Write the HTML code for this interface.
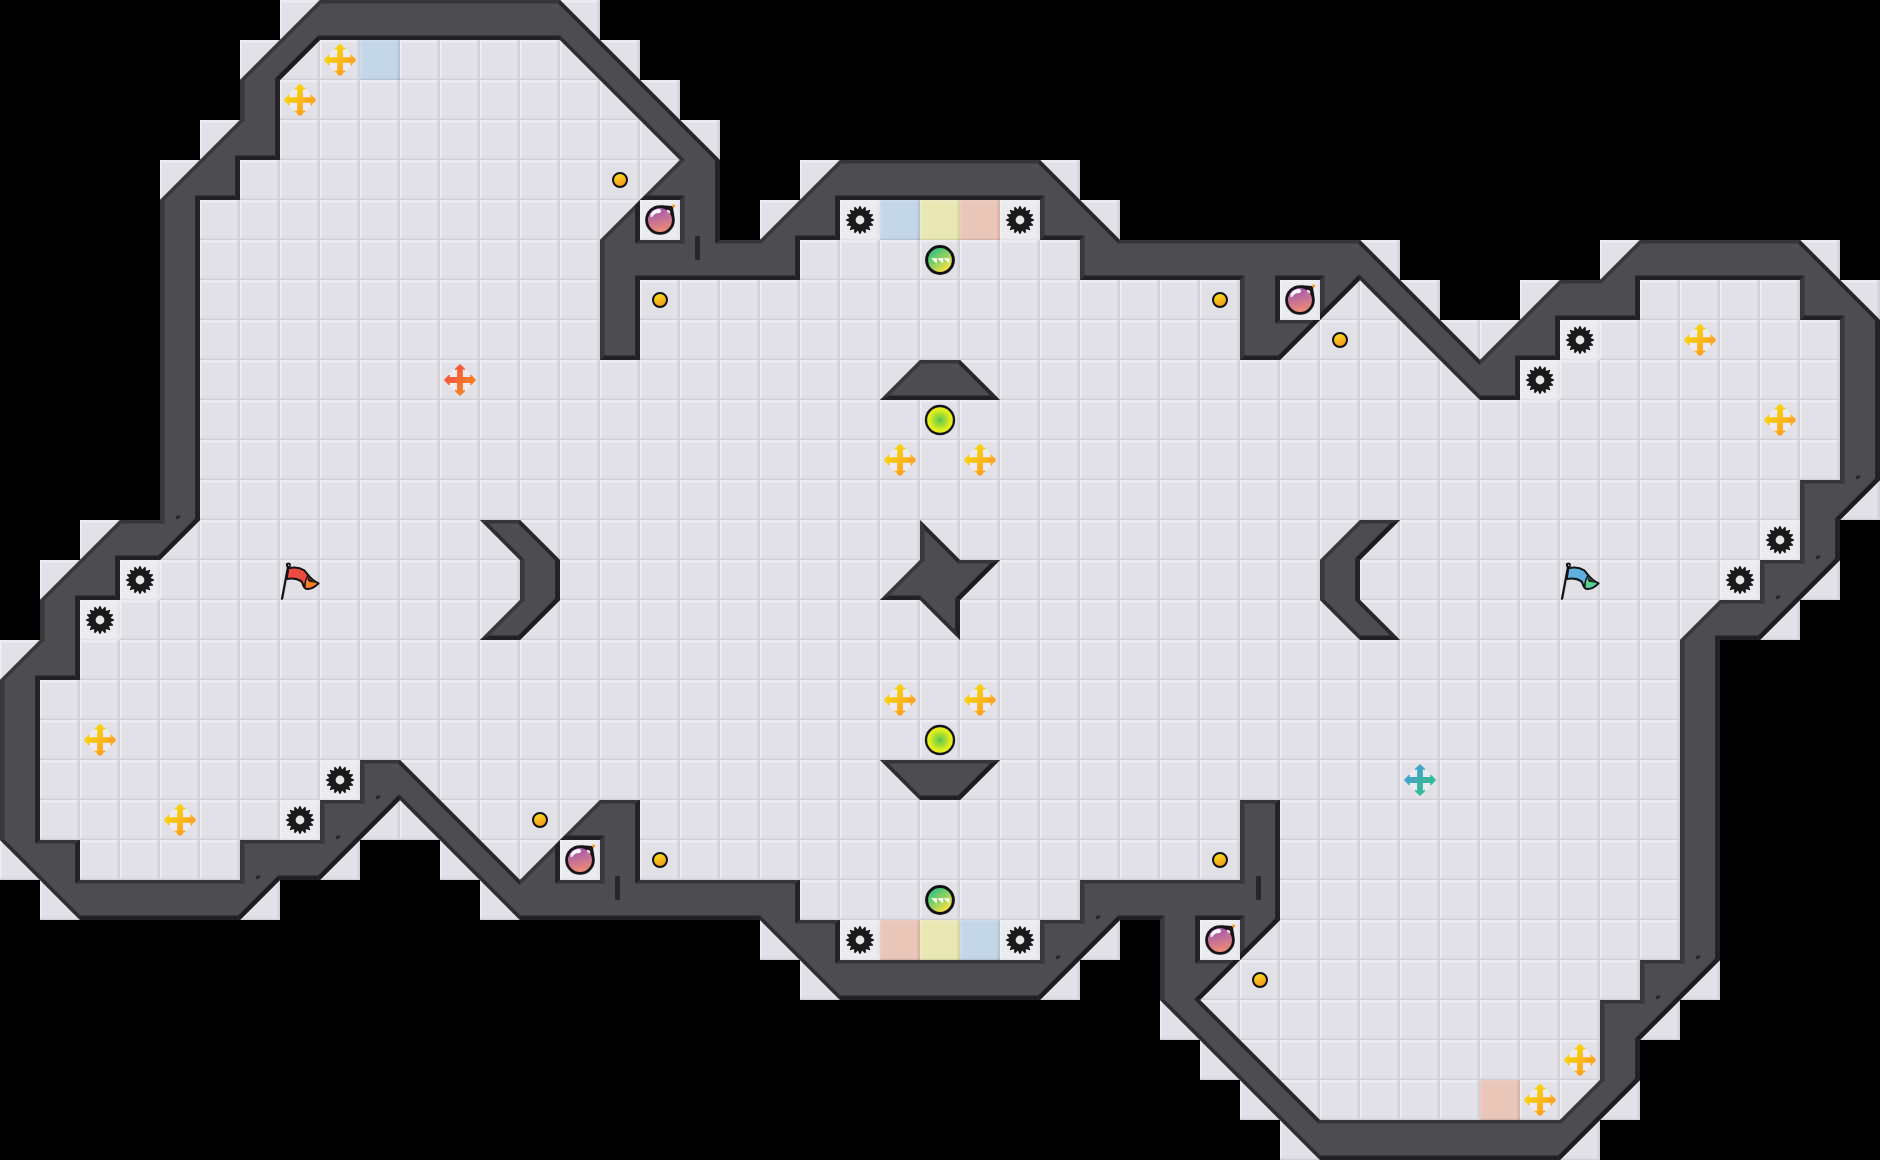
<!DOCTYPE html>
<html><head><meta charset="utf-8"><title>map</title>
<style>html,body{margin:0;padding:0;background:#000;overflow:hidden}svg{display:block}</style>
</head><body>
<svg width="1880" height="1160" viewBox="0 0 1880 1160">
<defs>
<pattern id="fl" width="40" height="40" patternUnits="userSpaceOnUse">
<rect width="40" height="40" fill="#e1e0e6"/>
<rect width="40" height="2.6" fill="#ebeaf0"/>
<rect width="2" height="40" fill="#ecebf1"/>
<rect x="37" width="1.5" height="40" fill="#dad9df"/>
<rect x="38.5" width="1.5" height="40" fill="#cfced4"/>
<rect y="38" width="40" height="1" fill="#dbdae0"/>
<rect y="39" width="40" height="1" fill="#d0cfd5"/>
<rect x="5.5" y="5.5" width="29" height="29" fill="none" stroke="#e5e4ea" stroke-width="1"/>
</pattern>
<linearGradient id="gy" x1="0" y1="0" x2="1" y2="1"><stop offset="0.15" stop-color="#f7dc08"/><stop offset="0.85" stop-color="#ff9a1f"/></linearGradient>
<linearGradient id="gr" x1="0" y1="0" x2="1" y2="1"><stop offset="0.15" stop-color="#f24d44"/><stop offset="0.85" stop-color="#f78a1c"/></linearGradient>
<linearGradient id="gb" x1="0" y1="0" x2="1" y2="1"><stop offset="0.15" stop-color="#4a9bd6"/><stop offset="0.85" stop-color="#2cc486"/></linearGradient>
<linearGradient id="gbomb" x1="0" y1="0" x2="0.25" y2="1"><stop offset="0.1" stop-color="#9a55b8"/><stop offset="1" stop-color="#ee8a72"/></linearGradient>
<linearGradient id="gbtn" x1="0" y1="0" x2="0.3" y2="1"><stop offset="0.1" stop-color="#f8e31a"/><stop offset="1" stop-color="#f59a1c"/></linearGradient>
<linearGradient id="gtp" x1="0.1" y1="0" x2="0.9" y2="1"><stop offset="0.12" stop-color="#33c180"/><stop offset="0.5" stop-color="#8fd162"/><stop offset="0.82" stop-color="#f0e042"/></linearGradient>
<radialGradient id="gjj"><stop offset="0" stop-color="#58c64e"/><stop offset="0.75" stop-color="#e2ee1c"/><stop offset="1" stop-color="#e9f01a"/></radialGradient>
<path id="cross" d="M-2.8 -2.8L-2.8 -10.5L-5.5 -10.7L-5.5 -12L-3.7 -12.3L-2.3 -14.7L0 -15.9L2.3 -14.7L3.7 -12.3L5.5 -12L5.5 -10.7L2.8 -10.5L2.8 -2.8L10.5 -2.8L10.7 -5.5L12 -5.5L12.3 -3.7L14.7 -2.3L15.9 0L14.7 2.3L12.3 3.7L12 5.5L10.7 5.5L10.5 2.8L2.8 2.8L2.8 10.5L5.5 10.7L5.5 12L3.7 12.3L2.3 14.7L0 15.9L-2.3 14.7L-3.7 12.3L-5.5 12L-5.5 10.7L-2.8 10.5L-2.8 2.8L-10.5 2.8L-10.7 5.5L-12 5.5L-12.3 3.7L-14.7 2.3L-15.9 0L-14.7 -2.3L-12.3 -3.7L-12 -5.5L-10.7 -5.5L-10.5 -2.8z" stroke-linejoin="round"/>
<filter id="sb" x="-1%" y="-1%" width="102%" height="102%"><feGaussianBlur stdDeviation="0.55"/></filter>
<radialGradient id="gh"><stop offset="0.35" stop-color="#fff" stop-opacity="0.15"/><stop offset="0.8" stop-color="#fff" stop-opacity="0.45"/><stop offset="0.96" stop-color="#f0eeff" stop-opacity="0.5"/><stop offset="1" stop-color="#fff" stop-opacity="0"/></radialGradient>
<g id="halo"><circle r="12.6" fill="url(#gh)"/></g>
<g id="Y"><use href="#halo"/><use href="#cross" fill="url(#gy)"/><circle r="1.6" fill="none" stroke="#ffb347" stroke-width="0.6"/></g>
<path id="cross2" d="M-2.9 -2.9L-2.9 -10.4L-5.3 -9.8L-4.7 -11.6L0 -16.1L4.7 -11.6L5.3 -9.8L2.9 -10.4L2.9 -2.9L10.4 -2.9L9.8 -5.3L11.6 -4.7L16.1 0L11.6 4.7L9.8 5.3L10.4 2.9L2.9 2.9L2.9 10.4L5.3 9.8L4.7 11.6L0 16.1L-4.7 11.6L-5.3 9.8L-2.9 10.4L-2.9 2.9L-10.4 2.9L-9.8 5.3L-11.6 4.7L-16.1 0L-11.6 -4.7L-9.8 -5.3L-10.4 -2.9z" stroke-linejoin="round"/>
<g id="R"><use href="#halo"/><use href="#cross2" fill="url(#gr)"/></g>
<g id="U"><use href="#halo"/><use href="#cross2" fill="url(#gb)"/></g>
<g id="S"><path d="M-0.47 -14.09L0.47 -14.09L2.09 -10.49L4.96 -13.2L5.83 -12.84L5.94 -8.9L9.63 -10.3L10.3 -9.63L8.9 -5.94L12.84 -5.83L13.2 -4.96L10.49 -2.09L14.09 -0.47L14.09 0.47L10.49 2.09L13.2 4.96L12.84 5.83L8.9 5.94L10.3 9.63L9.63 10.3L5.94 8.9L5.83 12.84L4.96 13.2L2.09 10.49L0.47 14.09L-0.47 14.09L-2.09 10.49L-4.96 13.2L-5.83 12.84L-5.94 8.9L-9.63 10.3L-10.3 9.63L-8.9 5.94L-12.84 5.83L-13.2 4.96L-10.49 2.09L-14.09 0.47L-14.09 -0.47L-10.49 -2.09L-13.2 -4.96L-12.84 -5.83L-8.9 -5.94L-10.3 -9.63L-9.63 -10.3L-5.94 -8.9L-5.83 -12.84L-4.96 -13.2L-2.09 -10.49z" fill="#1a1a1a"/><circle r="4.4" fill="#e6e5ea"/></g>
<g id="B"><path d="M1 -14.7L12.8 -13.9L14.3 -4z" fill="#151515"/><circle r="13.4" fill="url(#gbomb)" stroke="#151515" stroke-width="2.8"/><path d="M-9.6 -3.2Q-9.4 -10 -1 -11.2Q2.4 -9.6 0 -7Q-5 -7.6 -7.4 -3.6Q-8.6 -2.4 -9.6 -3.2z" fill="#fff" opacity="0.96"/><ellipse cx="8.6" cy="-8.4" rx="2.1" ry="1.4" fill="#f9cfdc" transform="rotate(45 8.6 -8.4)"/><rect x="12.2" y="-15.4" width="2.8" height="2.8" fill="#f7941d" transform="rotate(20 13.6 -14)"/></g>
<g id="o"><circle r="7" fill="url(#gbtn)" stroke="#131313" stroke-width="2"/></g>
<g id="G"><circle r="13.4" fill="url(#gtp)" stroke="#131313" stroke-width="3"/><path d="M-9 -1.7h6l-0.4 5.1zM-2.6 -1.7h6l-0.4 5.1zM3.8 -1.7h5.8l-0.4 5.1z" fill="#fff"/></g>
<g id="J"><circle r="14" fill="url(#gjj)" stroke="#17121f" stroke-width="2.3"/></g>
<g id="flag"><path d="M-11.7 -14.6L-17.9 18.6" stroke="#141414" stroke-width="2.3" stroke-linecap="round" fill="none"/><circle cx="-11.6" cy="-15" r="2.5" fill="#141414"/><circle cx="-11.3" cy="-14.8" r="0.7" fill="#ddd"/></g>
<g id="F"><path d="M-11.7 -11.7C-7 -13 -1 -13.2 4.1 -9.7C7.6 -6.5 9 -1 18.6 3.4C15 7 10.5 9.6 6.5 8.9C2.6 7.6 3.6 4 1.4 1.4C-2.8 -1.6 -8 -2 -13.3 -0.9z" fill="#ea4a3f" stroke="#141414" stroke-width="2" stroke-linejoin="round"/><path d="M6.2 -0.5L10 0.6L17 3.5L10 7.6L6.6 7.9L5 4.5z" fill="#f58220"/><path d="M7 -5C8.8 -1 12 1.6 18 3.5L8.6 1.6z" fill="#141414"/><path d="M7.8 -4.5Q4.6 1 4.8 7" stroke="#141414" stroke-width="1.4" fill="none"/><use href="#flag"/></g>
<g id="f"><path d="M-11.7 -11.7C-7 -13 -1 -13.2 4.1 -9.7C7.6 -6.5 9 -1 18.6 3.4C15 7 10.5 9.6 6.5 8.9C2.6 7.6 3.6 4 1.4 1.4C-2.8 -1.6 -8 -2 -13.3 -0.9z" fill="#5eb0e0" stroke="#141414" stroke-width="2" stroke-linejoin="round"/><path d="M6.2 -0.5L10 0.6L17 3.5L10 7.6L6.6 7.9L5 4.5z" fill="#55d58a"/><path d="M7 -5C8.8 -1 12 1.6 18 3.5L8.6 1.6z" fill="#141414"/><path d="M7.8 -4.5Q4.6 1 4.8 7" stroke="#141414" stroke-width="1.4" fill="none"/><use href="#flag"/></g>
<g id="bev"><rect width="40" height="2.6" fill="#fff" opacity="0.10"/><rect width="2" height="40" fill="#fff" opacity="0.12"/><rect x="37" width="1.5" height="40" fill="#000" opacity="0.04"/><rect x="38.5" width="1.5" height="40" fill="#000" opacity="0.09"/><rect y="38" width="40" height="1" fill="#000" opacity="0.035"/><rect y="39" width="40" height="1" fill="#000" opacity="0.085"/></g>
</defs>
<rect width="1880" height="1160" fill="#000"/>
<path d="M280 0h40v40h-40zM560 0h40v40h-40zM240 40h40v40h-40zM280 40h40v40h-40zM320 40h40v40h-40zM360 40h40v40h-40zM400 40h40v40h-40zM440 40h40v40h-40zM480 40h40v40h-40zM520 40h40v40h-40zM560 40h40v40h-40zM600 40h40v40h-40zM280 80h40v40h-40zM320 80h40v40h-40zM360 80h40v40h-40zM400 80h40v40h-40zM440 80h40v40h-40zM480 80h40v40h-40zM520 80h40v40h-40zM560 80h40v40h-40zM600 80h40v40h-40zM640 80h40v40h-40zM200 120h40v40h-40zM280 120h40v40h-40zM320 120h40v40h-40zM360 120h40v40h-40zM400 120h40v40h-40zM440 120h40v40h-40zM480 120h40v40h-40zM520 120h40v40h-40zM560 120h40v40h-40zM600 120h40v40h-40zM640 120h40v40h-40zM680 120h40v40h-40zM160 160h40v40h-40zM240 160h40v40h-40zM280 160h40v40h-40zM320 160h40v40h-40zM360 160h40v40h-40zM400 160h40v40h-40zM440 160h40v40h-40zM480 160h40v40h-40zM520 160h40v40h-40zM560 160h40v40h-40zM600 160h40v40h-40zM640 160h40v40h-40zM800 160h40v40h-40zM1040 160h40v40h-40zM200 200h40v40h-40zM240 200h40v40h-40zM280 200h40v40h-40zM320 200h40v40h-40zM360 200h40v40h-40zM400 200h40v40h-40zM440 200h40v40h-40zM480 200h40v40h-40zM520 200h40v40h-40zM560 200h40v40h-40zM600 200h40v40h-40zM640 200h40v40h-40zM760 200h40v40h-40zM840 200h40v40h-40zM880 200h40v40h-40zM920 200h40v40h-40zM960 200h40v40h-40zM1000 200h40v40h-40zM1080 200h40v40h-40zM200 240h40v40h-40zM240 240h40v40h-40zM280 240h40v40h-40zM320 240h40v40h-40zM360 240h40v40h-40zM400 240h40v40h-40zM440 240h40v40h-40zM480 240h40v40h-40zM520 240h40v40h-40zM560 240h40v40h-40zM800 240h40v40h-40zM840 240h40v40h-40zM880 240h40v40h-40zM920 240h40v40h-40zM960 240h40v40h-40zM1000 240h40v40h-40zM1040 240h40v40h-40zM1360 240h40v40h-40zM1600 240h40v40h-40zM1800 240h40v40h-40zM200 280h40v40h-40zM240 280h40v40h-40zM280 280h40v40h-40zM320 280h40v40h-40zM360 280h40v40h-40zM400 280h40v40h-40zM440 280h40v40h-40zM480 280h40v40h-40zM520 280h40v40h-40zM560 280h40v40h-40zM640 280h40v40h-40zM680 280h40v40h-40zM720 280h40v40h-40zM760 280h40v40h-40zM800 280h40v40h-40zM840 280h40v40h-40zM880 280h40v40h-40zM920 280h40v40h-40zM960 280h40v40h-40zM1000 280h40v40h-40zM1040 280h40v40h-40zM1080 280h40v40h-40zM1120 280h40v40h-40zM1160 280h40v40h-40zM1200 280h40v40h-40zM1280 280h40v40h-40zM1320 280h40v40h-40zM1360 280h40v40h-40zM1400 280h40v40h-40zM1520 280h40v40h-40zM1640 280h40v40h-40zM1680 280h40v40h-40zM1720 280h40v40h-40zM1760 280h40v40h-40zM1840 280h40v40h-40zM200 320h40v40h-40zM240 320h40v40h-40zM280 320h40v40h-40zM320 320h40v40h-40zM360 320h40v40h-40zM400 320h40v40h-40zM440 320h40v40h-40zM480 320h40v40h-40zM520 320h40v40h-40zM560 320h40v40h-40zM640 320h40v40h-40zM680 320h40v40h-40zM720 320h40v40h-40zM760 320h40v40h-40zM800 320h40v40h-40zM840 320h40v40h-40zM880 320h40v40h-40zM920 320h40v40h-40zM960 320h40v40h-40zM1000 320h40v40h-40zM1040 320h40v40h-40zM1080 320h40v40h-40zM1120 320h40v40h-40zM1160 320h40v40h-40zM1200 320h40v40h-40zM1280 320h40v40h-40zM1320 320h40v40h-40zM1360 320h40v40h-40zM1400 320h40v40h-40zM1440 320h40v40h-40zM1480 320h40v40h-40zM1560 320h40v40h-40zM1600 320h40v40h-40zM1640 320h40v40h-40zM1680 320h40v40h-40zM1720 320h40v40h-40zM1760 320h40v40h-40zM1800 320h40v40h-40zM200 360h40v40h-40zM240 360h40v40h-40zM280 360h40v40h-40zM320 360h40v40h-40zM360 360h40v40h-40zM400 360h40v40h-40zM440 360h40v40h-40zM480 360h40v40h-40zM520 360h40v40h-40zM560 360h40v40h-40zM600 360h40v40h-40zM640 360h40v40h-40zM680 360h40v40h-40zM720 360h40v40h-40zM760 360h40v40h-40zM800 360h40v40h-40zM840 360h40v40h-40zM880 360h40v40h-40zM960 360h40v40h-40zM1000 360h40v40h-40zM1040 360h40v40h-40zM1080 360h40v40h-40zM1120 360h40v40h-40zM1160 360h40v40h-40zM1200 360h40v40h-40zM1240 360h40v40h-40zM1280 360h40v40h-40zM1320 360h40v40h-40zM1360 360h40v40h-40zM1400 360h40v40h-40zM1440 360h40v40h-40zM1520 360h40v40h-40zM1560 360h40v40h-40zM1600 360h40v40h-40zM1640 360h40v40h-40zM1680 360h40v40h-40zM1720 360h40v40h-40zM1760 360h40v40h-40zM1800 360h40v40h-40zM200 400h40v40h-40zM240 400h40v40h-40zM280 400h40v40h-40zM320 400h40v40h-40zM360 400h40v40h-40zM400 400h40v40h-40zM440 400h40v40h-40zM480 400h40v40h-40zM520 400h40v40h-40zM560 400h40v40h-40zM600 400h40v40h-40zM640 400h40v40h-40zM680 400h40v40h-40zM720 400h40v40h-40zM760 400h40v40h-40zM800 400h40v40h-40zM840 400h40v40h-40zM880 400h40v40h-40zM920 400h40v40h-40zM960 400h40v40h-40zM1000 400h40v40h-40zM1040 400h40v40h-40zM1080 400h40v40h-40zM1120 400h40v40h-40zM1160 400h40v40h-40zM1200 400h40v40h-40zM1240 400h40v40h-40zM1280 400h40v40h-40zM1320 400h40v40h-40zM1360 400h40v40h-40zM1400 400h40v40h-40zM1440 400h40v40h-40zM1480 400h40v40h-40zM1520 400h40v40h-40zM1560 400h40v40h-40zM1600 400h40v40h-40zM1640 400h40v40h-40zM1680 400h40v40h-40zM1720 400h40v40h-40zM1760 400h40v40h-40zM1800 400h40v40h-40zM200 440h40v40h-40zM240 440h40v40h-40zM280 440h40v40h-40zM320 440h40v40h-40zM360 440h40v40h-40zM400 440h40v40h-40zM440 440h40v40h-40zM480 440h40v40h-40zM520 440h40v40h-40zM560 440h40v40h-40zM600 440h40v40h-40zM640 440h40v40h-40zM680 440h40v40h-40zM720 440h40v40h-40zM760 440h40v40h-40zM800 440h40v40h-40zM840 440h40v40h-40zM880 440h40v40h-40zM920 440h40v40h-40zM960 440h40v40h-40zM1000 440h40v40h-40zM1040 440h40v40h-40zM1080 440h40v40h-40zM1120 440h40v40h-40zM1160 440h40v40h-40zM1200 440h40v40h-40zM1240 440h40v40h-40zM1280 440h40v40h-40zM1320 440h40v40h-40zM1360 440h40v40h-40zM1400 440h40v40h-40zM1440 440h40v40h-40zM1480 440h40v40h-40zM1520 440h40v40h-40zM1560 440h40v40h-40zM1600 440h40v40h-40zM1640 440h40v40h-40zM1680 440h40v40h-40zM1720 440h40v40h-40zM1760 440h40v40h-40zM1800 440h40v40h-40zM200 480h40v40h-40zM240 480h40v40h-40zM280 480h40v40h-40zM320 480h40v40h-40zM360 480h40v40h-40zM400 480h40v40h-40zM440 480h40v40h-40zM480 480h40v40h-40zM520 480h40v40h-40zM560 480h40v40h-40zM600 480h40v40h-40zM640 480h40v40h-40zM680 480h40v40h-40zM720 480h40v40h-40zM760 480h40v40h-40zM800 480h40v40h-40zM840 480h40v40h-40zM880 480h40v40h-40zM920 480h40v40h-40zM960 480h40v40h-40zM1000 480h40v40h-40zM1040 480h40v40h-40zM1080 480h40v40h-40zM1120 480h40v40h-40zM1160 480h40v40h-40zM1200 480h40v40h-40zM1240 480h40v40h-40zM1280 480h40v40h-40zM1320 480h40v40h-40zM1360 480h40v40h-40zM1400 480h40v40h-40zM1440 480h40v40h-40zM1480 480h40v40h-40zM1520 480h40v40h-40zM1560 480h40v40h-40zM1600 480h40v40h-40zM1640 480h40v40h-40zM1680 480h40v40h-40zM1720 480h40v40h-40zM1760 480h40v40h-40zM1840 480h40v40h-40zM80 520h40v40h-40zM160 520h40v40h-40zM200 520h40v40h-40zM240 520h40v40h-40zM280 520h40v40h-40zM320 520h40v40h-40zM360 520h40v40h-40zM400 520h40v40h-40zM440 520h40v40h-40zM480 520h40v40h-40zM520 520h40v40h-40zM560 520h40v40h-40zM600 520h40v40h-40zM640 520h40v40h-40zM680 520h40v40h-40zM720 520h40v40h-40zM760 520h40v40h-40zM800 520h40v40h-40zM840 520h40v40h-40zM880 520h40v40h-40zM920 520h40v40h-40zM960 520h40v40h-40zM1000 520h40v40h-40zM1040 520h40v40h-40zM1080 520h40v40h-40zM1120 520h40v40h-40zM1160 520h40v40h-40zM1200 520h40v40h-40zM1240 520h40v40h-40zM1280 520h40v40h-40zM1320 520h40v40h-40zM1360 520h40v40h-40zM1400 520h40v40h-40zM1440 520h40v40h-40zM1480 520h40v40h-40zM1520 520h40v40h-40zM1560 520h40v40h-40zM1600 520h40v40h-40zM1640 520h40v40h-40zM1680 520h40v40h-40zM1720 520h40v40h-40zM1760 520h40v40h-40zM40 560h40v40h-40zM120 560h40v40h-40zM160 560h40v40h-40zM200 560h40v40h-40zM240 560h40v40h-40zM280 560h40v40h-40zM320 560h40v40h-40zM360 560h40v40h-40zM400 560h40v40h-40zM440 560h40v40h-40zM480 560h40v40h-40zM560 560h40v40h-40zM600 560h40v40h-40zM640 560h40v40h-40zM680 560h40v40h-40zM720 560h40v40h-40zM760 560h40v40h-40zM800 560h40v40h-40zM840 560h40v40h-40zM880 560h40v40h-40zM960 560h40v40h-40zM1000 560h40v40h-40zM1040 560h40v40h-40zM1080 560h40v40h-40zM1120 560h40v40h-40zM1160 560h40v40h-40zM1200 560h40v40h-40zM1240 560h40v40h-40zM1280 560h40v40h-40zM1360 560h40v40h-40zM1400 560h40v40h-40zM1440 560h40v40h-40zM1480 560h40v40h-40zM1520 560h40v40h-40zM1560 560h40v40h-40zM1600 560h40v40h-40zM1640 560h40v40h-40zM1680 560h40v40h-40zM1720 560h40v40h-40zM1800 560h40v40h-40zM80 600h40v40h-40zM120 600h40v40h-40zM160 600h40v40h-40zM200 600h40v40h-40zM240 600h40v40h-40zM280 600h40v40h-40zM320 600h40v40h-40zM360 600h40v40h-40zM400 600h40v40h-40zM440 600h40v40h-40zM480 600h40v40h-40zM520 600h40v40h-40zM560 600h40v40h-40zM600 600h40v40h-40zM640 600h40v40h-40zM680 600h40v40h-40zM720 600h40v40h-40zM760 600h40v40h-40zM800 600h40v40h-40zM840 600h40v40h-40zM880 600h40v40h-40zM920 600h40v40h-40zM960 600h40v40h-40zM1000 600h40v40h-40zM1040 600h40v40h-40zM1080 600h40v40h-40zM1120 600h40v40h-40zM1160 600h40v40h-40zM1200 600h40v40h-40zM1240 600h40v40h-40zM1280 600h40v40h-40zM1320 600h40v40h-40zM1360 600h40v40h-40zM1400 600h40v40h-40zM1440 600h40v40h-40zM1480 600h40v40h-40zM1520 600h40v40h-40zM1560 600h40v40h-40zM1600 600h40v40h-40zM1640 600h40v40h-40zM1680 600h40v40h-40zM1760 600h40v40h-40zM0 640h40v40h-40zM80 640h40v40h-40zM120 640h40v40h-40zM160 640h40v40h-40zM200 640h40v40h-40zM240 640h40v40h-40zM280 640h40v40h-40zM320 640h40v40h-40zM360 640h40v40h-40zM400 640h40v40h-40zM440 640h40v40h-40zM480 640h40v40h-40zM520 640h40v40h-40zM560 640h40v40h-40zM600 640h40v40h-40zM640 640h40v40h-40zM680 640h40v40h-40zM720 640h40v40h-40zM760 640h40v40h-40zM800 640h40v40h-40zM840 640h40v40h-40zM880 640h40v40h-40zM920 640h40v40h-40zM960 640h40v40h-40zM1000 640h40v40h-40zM1040 640h40v40h-40zM1080 640h40v40h-40zM1120 640h40v40h-40zM1160 640h40v40h-40zM1200 640h40v40h-40zM1240 640h40v40h-40zM1280 640h40v40h-40zM1320 640h40v40h-40zM1360 640h40v40h-40zM1400 640h40v40h-40zM1440 640h40v40h-40zM1480 640h40v40h-40zM1520 640h40v40h-40zM1560 640h40v40h-40zM1600 640h40v40h-40zM1640 640h40v40h-40zM40 680h40v40h-40zM80 680h40v40h-40zM120 680h40v40h-40zM160 680h40v40h-40zM200 680h40v40h-40zM240 680h40v40h-40zM280 680h40v40h-40zM320 680h40v40h-40zM360 680h40v40h-40zM400 680h40v40h-40zM440 680h40v40h-40zM480 680h40v40h-40zM520 680h40v40h-40zM560 680h40v40h-40zM600 680h40v40h-40zM640 680h40v40h-40zM680 680h40v40h-40zM720 680h40v40h-40zM760 680h40v40h-40zM800 680h40v40h-40zM840 680h40v40h-40zM880 680h40v40h-40zM920 680h40v40h-40zM960 680h40v40h-40zM1000 680h40v40h-40zM1040 680h40v40h-40zM1080 680h40v40h-40zM1120 680h40v40h-40zM1160 680h40v40h-40zM1200 680h40v40h-40zM1240 680h40v40h-40zM1280 680h40v40h-40zM1320 680h40v40h-40zM1360 680h40v40h-40zM1400 680h40v40h-40zM1440 680h40v40h-40zM1480 680h40v40h-40zM1520 680h40v40h-40zM1560 680h40v40h-40zM1600 680h40v40h-40zM1640 680h40v40h-40zM40 720h40v40h-40zM80 720h40v40h-40zM120 720h40v40h-40zM160 720h40v40h-40zM200 720h40v40h-40zM240 720h40v40h-40zM280 720h40v40h-40zM320 720h40v40h-40zM360 720h40v40h-40zM400 720h40v40h-40zM440 720h40v40h-40zM480 720h40v40h-40zM520 720h40v40h-40zM560 720h40v40h-40zM600 720h40v40h-40zM640 720h40v40h-40zM680 720h40v40h-40zM720 720h40v40h-40zM760 720h40v40h-40zM800 720h40v40h-40zM840 720h40v40h-40zM880 720h40v40h-40zM920 720h40v40h-40zM960 720h40v40h-40zM1000 720h40v40h-40zM1040 720h40v40h-40zM1080 720h40v40h-40zM1120 720h40v40h-40zM1160 720h40v40h-40zM1200 720h40v40h-40zM1240 720h40v40h-40zM1280 720h40v40h-40zM1320 720h40v40h-40zM1360 720h40v40h-40zM1400 720h40v40h-40zM1440 720h40v40h-40zM1480 720h40v40h-40zM1520 720h40v40h-40zM1560 720h40v40h-40zM1600 720h40v40h-40zM1640 720h40v40h-40zM40 760h40v40h-40zM80 760h40v40h-40zM120 760h40v40h-40zM160 760h40v40h-40zM200 760h40v40h-40zM240 760h40v40h-40zM280 760h40v40h-40zM320 760h40v40h-40zM400 760h40v40h-40zM440 760h40v40h-40zM480 760h40v40h-40zM520 760h40v40h-40zM560 760h40v40h-40zM600 760h40v40h-40zM640 760h40v40h-40zM680 760h40v40h-40zM720 760h40v40h-40zM760 760h40v40h-40zM800 760h40v40h-40zM840 760h40v40h-40zM880 760h40v40h-40zM960 760h40v40h-40zM1000 760h40v40h-40zM1040 760h40v40h-40zM1080 760h40v40h-40zM1120 760h40v40h-40zM1160 760h40v40h-40zM1200 760h40v40h-40zM1240 760h40v40h-40zM1280 760h40v40h-40zM1320 760h40v40h-40zM1360 760h40v40h-40zM1400 760h40v40h-40zM1440 760h40v40h-40zM1480 760h40v40h-40zM1520 760h40v40h-40zM1560 760h40v40h-40zM1600 760h40v40h-40zM1640 760h40v40h-40zM40 800h40v40h-40zM80 800h40v40h-40zM120 800h40v40h-40zM160 800h40v40h-40zM200 800h40v40h-40zM240 800h40v40h-40zM280 800h40v40h-40zM360 800h40v40h-40zM400 800h40v40h-40zM440 800h40v40h-40zM480 800h40v40h-40zM520 800h40v40h-40zM560 800h40v40h-40zM640 800h40v40h-40zM680 800h40v40h-40zM720 800h40v40h-40zM760 800h40v40h-40zM800 800h40v40h-40zM840 800h40v40h-40zM880 800h40v40h-40zM920 800h40v40h-40zM960 800h40v40h-40zM1000 800h40v40h-40zM1040 800h40v40h-40zM1080 800h40v40h-40zM1120 800h40v40h-40zM1160 800h40v40h-40zM1200 800h40v40h-40zM1280 800h40v40h-40zM1320 800h40v40h-40zM1360 800h40v40h-40zM1400 800h40v40h-40zM1440 800h40v40h-40zM1480 800h40v40h-40zM1520 800h40v40h-40zM1560 800h40v40h-40zM1600 800h40v40h-40zM1640 800h40v40h-40zM0 840h40v40h-40zM80 840h40v40h-40zM120 840h40v40h-40zM160 840h40v40h-40zM200 840h40v40h-40zM320 840h40v40h-40zM440 840h40v40h-40zM480 840h40v40h-40zM520 840h40v40h-40zM560 840h40v40h-40zM640 840h40v40h-40zM680 840h40v40h-40zM720 840h40v40h-40zM760 840h40v40h-40zM800 840h40v40h-40zM840 840h40v40h-40zM880 840h40v40h-40zM920 840h40v40h-40zM960 840h40v40h-40zM1000 840h40v40h-40zM1040 840h40v40h-40zM1080 840h40v40h-40zM1120 840h40v40h-40zM1160 840h40v40h-40zM1200 840h40v40h-40zM1280 840h40v40h-40zM1320 840h40v40h-40zM1360 840h40v40h-40zM1400 840h40v40h-40zM1440 840h40v40h-40zM1480 840h40v40h-40zM1520 840h40v40h-40zM1560 840h40v40h-40zM1600 840h40v40h-40zM1640 840h40v40h-40zM40 880h40v40h-40zM240 880h40v40h-40zM480 880h40v40h-40zM800 880h40v40h-40zM840 880h40v40h-40zM880 880h40v40h-40zM920 880h40v40h-40zM960 880h40v40h-40zM1000 880h40v40h-40zM1040 880h40v40h-40zM1280 880h40v40h-40zM1320 880h40v40h-40zM1360 880h40v40h-40zM1400 880h40v40h-40zM1440 880h40v40h-40zM1480 880h40v40h-40zM1520 880h40v40h-40zM1560 880h40v40h-40zM1600 880h40v40h-40zM1640 880h40v40h-40zM760 920h40v40h-40zM840 920h40v40h-40zM880 920h40v40h-40zM920 920h40v40h-40zM960 920h40v40h-40zM1000 920h40v40h-40zM1080 920h40v40h-40zM1200 920h40v40h-40zM1240 920h40v40h-40zM1280 920h40v40h-40zM1320 920h40v40h-40zM1360 920h40v40h-40zM1400 920h40v40h-40zM1440 920h40v40h-40zM1480 920h40v40h-40zM1520 920h40v40h-40zM1560 920h40v40h-40zM1600 920h40v40h-40zM1640 920h40v40h-40zM800 960h40v40h-40zM1040 960h40v40h-40zM1200 960h40v40h-40zM1240 960h40v40h-40zM1280 960h40v40h-40zM1320 960h40v40h-40zM1360 960h40v40h-40zM1400 960h40v40h-40zM1440 960h40v40h-40zM1480 960h40v40h-40zM1520 960h40v40h-40zM1560 960h40v40h-40zM1600 960h40v40h-40zM1680 960h40v40h-40zM1160 1000h40v40h-40zM1200 1000h40v40h-40zM1240 1000h40v40h-40zM1280 1000h40v40h-40zM1320 1000h40v40h-40zM1360 1000h40v40h-40zM1400 1000h40v40h-40zM1440 1000h40v40h-40zM1480 1000h40v40h-40zM1520 1000h40v40h-40zM1560 1000h40v40h-40zM1640 1000h40v40h-40zM1200 1040h40v40h-40zM1240 1040h40v40h-40zM1280 1040h40v40h-40zM1320 1040h40v40h-40zM1360 1040h40v40h-40zM1400 1040h40v40h-40zM1440 1040h40v40h-40zM1480 1040h40v40h-40zM1520 1040h40v40h-40zM1560 1040h40v40h-40zM1240 1080h40v40h-40zM1280 1080h40v40h-40zM1320 1080h40v40h-40zM1360 1080h40v40h-40zM1400 1080h40v40h-40zM1440 1080h40v40h-40zM1480 1080h40v40h-40zM1520 1080h40v40h-40zM1560 1080h40v40h-40zM1600 1080h40v40h-40zM1280 1120h40v40h-40zM1560 1120h40v40h-40z" fill="url(#fl)"/>
<rect x="360" y="40" width="40" height="40" fill="#c3d6e8"/><use href="#bev" x="360" y="40"/>
<rect x="880" y="200" width="40" height="40" fill="#c3d6e8"/><use href="#bev" x="880" y="200"/>
<rect x="920" y="200" width="40" height="40" fill="#e9e7b4"/><use href="#bev" x="920" y="200"/>
<rect x="960" y="200" width="40" height="40" fill="#e9c6b8"/><use href="#bev" x="960" y="200"/>
<rect x="880" y="920" width="40" height="40" fill="#e9c6b8"/><use href="#bev" x="880" y="920"/>
<rect x="920" y="920" width="40" height="40" fill="#e9e7b4"/><use href="#bev" x="920" y="920"/>
<rect x="960" y="920" width="40" height="40" fill="#c3d6e8"/><use href="#bev" x="960" y="920"/>
<rect x="1480" y="1080" width="40" height="40" fill="#e9c6b8"/><use href="#bev" x="1480" y="1080"/>
<rect x="640" y="200" width="40" height="40" fill="#f3f3f5" opacity="0.55"/>
<rect x="840" y="200" width="40" height="40" fill="#f3f3f5" opacity="0.55"/>
<rect x="1000" y="200" width="40" height="40" fill="#f3f3f5" opacity="0.55"/>
<rect x="1280" y="280" width="40" height="40" fill="#f3f3f5" opacity="0.55"/>
<rect x="1560" y="320" width="40" height="40" fill="#f3f3f5" opacity="0.55"/>
<rect x="1520" y="360" width="40" height="40" fill="#f3f3f5" opacity="0.55"/>
<rect x="1760" y="520" width="40" height="40" fill="#f3f3f5" opacity="0.55"/>
<rect x="120" y="560" width="40" height="40" fill="#f3f3f5" opacity="0.55"/>
<rect x="1720" y="560" width="40" height="40" fill="#f3f3f5" opacity="0.55"/>
<rect x="80" y="600" width="40" height="40" fill="#f3f3f5" opacity="0.55"/>
<rect x="320" y="760" width="40" height="40" fill="#f3f3f5" opacity="0.55"/>
<rect x="280" y="800" width="40" height="40" fill="#f3f3f5" opacity="0.55"/>
<rect x="560" y="840" width="40" height="40" fill="#f3f3f5" opacity="0.55"/>
<rect x="840" y="920" width="40" height="40" fill="#f3f3f5" opacity="0.55"/>
<rect x="1000" y="920" width="40" height="40" fill="#f3f3f5" opacity="0.55"/>
<rect x="1200" y="920" width="40" height="40" fill="#f3f3f5" opacity="0.55"/>
<clipPath id="wc"><path d="M320 0v40h-40zM320 0h40v40h-40zM360 0h40v40h-40zM400 0h40v40h-40zM440 0h40v40h-40zM480 0h40v40h-40zM520 0h40v40h-40zM560 0v40h40zM280 40v40h-40zM280 40h40l-40 40zM560 40h40v40zM600 40v40h40zM240 80h40v40h-40zM600 80h40v40zM640 80v40h40zM240 120v40h-40zM240 120h40v40h-40zM640 120h40v40zM680 120v40h40zM200 160v40h-40zM200 160h40v40h-40zM680 160v40h-40zM680 160h40v40h-40zM840 160v40h-40zM840 160h40v40h-40zM880 160h40v40h-40zM920 160h40v40h-40zM960 160h40v40h-40zM1000 160h40v40h-40zM1040 160v40h40zM160 200h40v40h-40zM640 200v40h-40zM680 200h40v40h-40zM800 200v40h-40zM800 200h40v40h-40zM1040 200h40v40h-40zM1080 200v40h40zM160 240h40v40h-40zM600 240h40v40h-40zM640 240h40v40h-40zM680 240h40v40h-40zM720 240h40v40h-40zM760 240h40v40h-40zM1080 240h40v40h-40zM1120 240h40v40h-40zM1160 240h40v40h-40zM1200 240h40v40h-40zM1240 240h40v40h-40zM1280 240h40v40h-40zM1320 240h40v40h-40zM1360 240v40h40zM1640 240v40h-40zM1640 240h40v40h-40zM1680 240h40v40h-40zM1720 240h40v40h-40zM1760 240h40v40h-40zM1800 240v40h40zM160 280h40v40h-40zM600 280h40v40h-40zM1240 280h40v40h-40zM1320 280h40l-40 40zM1360 280h40v40zM1400 280v40h40zM1560 280v40h-40zM1560 280h40v40h-40zM1600 280h40v40h-40zM1800 280h40v40h-40zM1840 280v40h40zM160 320h40v40h-40zM600 320h40v40h-40zM1240 320h40v40h-40zM1280 320h40l-40 40zM1400 320h40v40zM1440 320v40h40zM1520 320v40h-40zM1520 320h40v40h-40zM1840 320h40v40h-40zM160 360h40v40h-40zM920 360v40h-40zM920 360h40v40h-40zM960 360v40h40zM1440 360h40v40zM1480 360h40v40h-40zM1840 360h40v40h-40zM160 400h40v40h-40zM1840 400h40v40h-40zM160 440h40v40h-40zM1840 440h40v40h-40zM160 480h40v40h-40zM1800 480h40v40h-40zM1840 480h40l-40 40zM120 520v40h-40zM120 520h40v40h-40zM160 520h40l-40 40zM480 520h40v40zM520 520v40h40zM920 520v40h40zM1360 520v40h-40zM1360 520h40l-40 40zM1800 520h40v40h-40zM80 560v40h-40zM80 560h40v40h-40zM520 560h40v40h-40zM920 560v40h-40zM920 560h40v40h-40zM960 560h40l-40 40zM1320 560h40v40h-40zM1760 560h40v40h-40zM1800 560h40l-40 40zM40 600h40v40h-40zM520 600v40h-40zM520 600h40l-40 40zM920 600h40v40zM1320 600h40v40zM1360 600v40h40zM1720 600v40h-40zM1720 600h40v40h-40zM1760 600h40l-40 40zM40 640v40h-40zM40 640h40v40h-40zM1680 640h40v40h-40zM0 680h40v40h-40zM1680 680h40v40h-40zM0 720h40v40h-40zM1680 720h40v40h-40zM0 760h40v40h-40zM360 760h40v40h-40zM400 760v40h40zM880 760h40v40zM920 760h40v40h-40zM960 760h40l-40 40zM1680 760h40v40h-40zM0 800h40v40h-40zM320 800h40v40h-40zM360 800h40l-40 40zM400 800h40v40zM440 800v40h40zM600 800v40h-40zM600 800h40v40h-40zM1240 800h40v40h-40zM1680 800h40v40h-40zM0 840h40v40zM40 840h40v40h-40zM240 840h40v40h-40zM280 840h40v40h-40zM320 840h40l-40 40zM440 840h40v40zM480 840v40h40zM560 840v40h-40zM600 840h40v40h-40zM1240 840h40v40h-40zM1680 840h40v40h-40zM40 880h40v40zM80 880h40v40h-40zM120 880h40v40h-40zM160 880h40v40h-40zM200 880h40v40h-40zM240 880h40l-40 40zM480 880h40v40zM520 880h40v40h-40zM560 880h40v40h-40zM600 880h40v40h-40zM640 880h40v40h-40zM680 880h40v40h-40zM720 880h40v40h-40zM760 880h40v40h-40zM1080 880h40v40h-40zM1120 880h40v40h-40zM1160 880h40v40h-40zM1200 880h40v40h-40zM1240 880h40v40h-40zM1680 880h40v40h-40zM760 920h40v40zM800 920h40v40h-40zM1040 920h40v40h-40zM1080 920h40l-40 40zM1160 920h40v40h-40zM1240 920h40l-40 40zM1680 920h40v40h-40zM800 960h40v40zM840 960h40v40h-40zM880 960h40v40h-40zM920 960h40v40h-40zM960 960h40v40h-40zM1000 960h40v40h-40zM1040 960h40l-40 40zM1160 960h40v40h-40zM1200 960h40l-40 40zM1640 960h40v40h-40zM1680 960h40l-40 40zM1160 1000h40v40zM1200 1000v40h40zM1600 1000h40v40h-40zM1640 1000h40l-40 40zM1200 1040h40v40zM1240 1040v40h40zM1600 1040h40v40h-40zM1240 1080h40v40zM1280 1080v40h40zM1600 1080v40h-40zM1600 1080h40l-40 40zM1280 1120h40v40zM1320 1120h40v40h-40zM1360 1120h40v40h-40zM1400 1120h40v40h-40zM1440 1120h40v40h-40zM1480 1120h40v40h-40zM1520 1120h40v40h-40zM1560 1120h40l-40 40z"/></clipPath>
<path d="M320 0v40h-40zM320 0h40v40h-40zM360 0h40v40h-40zM400 0h40v40h-40zM440 0h40v40h-40zM480 0h40v40h-40zM520 0h40v40h-40zM560 0v40h40zM280 40v40h-40zM280 40h40l-40 40zM560 40h40v40zM600 40v40h40zM240 80h40v40h-40zM600 80h40v40zM640 80v40h40zM240 120v40h-40zM240 120h40v40h-40zM640 120h40v40zM680 120v40h40zM200 160v40h-40zM200 160h40v40h-40zM680 160v40h-40zM680 160h40v40h-40zM840 160v40h-40zM840 160h40v40h-40zM880 160h40v40h-40zM920 160h40v40h-40zM960 160h40v40h-40zM1000 160h40v40h-40zM1040 160v40h40zM160 200h40v40h-40zM640 200v40h-40zM680 200h40v40h-40zM800 200v40h-40zM800 200h40v40h-40zM1040 200h40v40h-40zM1080 200v40h40zM160 240h40v40h-40zM600 240h40v40h-40zM640 240h40v40h-40zM680 240h40v40h-40zM720 240h40v40h-40zM760 240h40v40h-40zM1080 240h40v40h-40zM1120 240h40v40h-40zM1160 240h40v40h-40zM1200 240h40v40h-40zM1240 240h40v40h-40zM1280 240h40v40h-40zM1320 240h40v40h-40zM1360 240v40h40zM1640 240v40h-40zM1640 240h40v40h-40zM1680 240h40v40h-40zM1720 240h40v40h-40zM1760 240h40v40h-40zM1800 240v40h40zM160 280h40v40h-40zM600 280h40v40h-40zM1240 280h40v40h-40zM1320 280h40l-40 40zM1360 280h40v40zM1400 280v40h40zM1560 280v40h-40zM1560 280h40v40h-40zM1600 280h40v40h-40zM1800 280h40v40h-40zM1840 280v40h40zM160 320h40v40h-40zM600 320h40v40h-40zM1240 320h40v40h-40zM1280 320h40l-40 40zM1400 320h40v40zM1440 320v40h40zM1520 320v40h-40zM1520 320h40v40h-40zM1840 320h40v40h-40zM160 360h40v40h-40zM920 360v40h-40zM920 360h40v40h-40zM960 360v40h40zM1440 360h40v40zM1480 360h40v40h-40zM1840 360h40v40h-40zM160 400h40v40h-40zM1840 400h40v40h-40zM160 440h40v40h-40zM1840 440h40v40h-40zM160 480h40v40h-40zM1800 480h40v40h-40zM1840 480h40l-40 40zM120 520v40h-40zM120 520h40v40h-40zM160 520h40l-40 40zM480 520h40v40zM520 520v40h40zM920 520v40h40zM1360 520v40h-40zM1360 520h40l-40 40zM1800 520h40v40h-40zM80 560v40h-40zM80 560h40v40h-40zM520 560h40v40h-40zM920 560v40h-40zM920 560h40v40h-40zM960 560h40l-40 40zM1320 560h40v40h-40zM1760 560h40v40h-40zM1800 560h40l-40 40zM40 600h40v40h-40zM520 600v40h-40zM520 600h40l-40 40zM920 600h40v40zM1320 600h40v40zM1360 600v40h40zM1720 600v40h-40zM1720 600h40v40h-40zM1760 600h40l-40 40zM40 640v40h-40zM40 640h40v40h-40zM1680 640h40v40h-40zM0 680h40v40h-40zM1680 680h40v40h-40zM0 720h40v40h-40zM1680 720h40v40h-40zM0 760h40v40h-40zM360 760h40v40h-40zM400 760v40h40zM880 760h40v40zM920 760h40v40h-40zM960 760h40l-40 40zM1680 760h40v40h-40zM0 800h40v40h-40zM320 800h40v40h-40zM360 800h40l-40 40zM400 800h40v40zM440 800v40h40zM600 800v40h-40zM600 800h40v40h-40zM1240 800h40v40h-40zM1680 800h40v40h-40zM0 840h40v40zM40 840h40v40h-40zM240 840h40v40h-40zM280 840h40v40h-40zM320 840h40l-40 40zM440 840h40v40zM480 840v40h40zM560 840v40h-40zM600 840h40v40h-40zM1240 840h40v40h-40zM1680 840h40v40h-40zM40 880h40v40zM80 880h40v40h-40zM120 880h40v40h-40zM160 880h40v40h-40zM200 880h40v40h-40zM240 880h40l-40 40zM480 880h40v40zM520 880h40v40h-40zM560 880h40v40h-40zM600 880h40v40h-40zM640 880h40v40h-40zM680 880h40v40h-40zM720 880h40v40h-40zM760 880h40v40h-40zM1080 880h40v40h-40zM1120 880h40v40h-40zM1160 880h40v40h-40zM1200 880h40v40h-40zM1240 880h40v40h-40zM1680 880h40v40h-40zM760 920h40v40zM800 920h40v40h-40zM1040 920h40v40h-40zM1080 920h40l-40 40zM1160 920h40v40h-40zM1240 920h40l-40 40zM1680 920h40v40h-40zM800 960h40v40zM840 960h40v40h-40zM880 960h40v40h-40zM920 960h40v40h-40zM960 960h40v40h-40zM1000 960h40v40h-40zM1040 960h40l-40 40zM1160 960h40v40h-40zM1200 960h40l-40 40zM1640 960h40v40h-40zM1680 960h40l-40 40zM1160 1000h40v40zM1200 1000v40h40zM1600 1000h40v40h-40zM1640 1000h40l-40 40zM1200 1040h40v40zM1240 1040v40h40zM1600 1040h40v40h-40zM1240 1080h40v40zM1280 1080v40h40zM1600 1080v40h-40zM1600 1080h40l-40 40zM1280 1120h40v40zM1320 1120h40v40h-40zM1360 1120h40v40h-40zM1400 1120h40v40h-40zM1440 1120h40v40h-40zM1480 1120h40v40h-40zM1520 1120h40v40h-40zM1560 1120h40l-40 40z" fill="#4d4c51"/>
<g clip-path="url(#wc)"><g filter="url(#sb)"><path d="M319.17 -2L560.83 -2L558.23 3.6L321.35 3.6zM722 238L759.17 238L761.35 243.6L715.1 243.6zM839.17 158L1040.83 158L1038.23 163.6L841.35 163.6zM1120.83 238L1360.83 238L1358.23 243.6L1118.23 243.6zM1559.17 278L1599.17 278L1601.35 283.6L1561.35 283.6zM1639.17 238L1800.83 238L1798.23 243.6L1641.35 243.6zM119.17 518L158 518L164.6 523.6L121.35 523.6zM42 838L82 838L75.1 843.6L35.1 843.6zM82 878L238 878L244.6 883.6L75.1 883.6zM238 838L318 838L324.6 843.6L244.6 843.6zM318 798L358 798L364.6 803.6L324.6 803.6zM358 758L400.83 758L398.23 763.6L364.6 763.6zM599.17 798L642 798L635.1 803.6L601.35 803.6zM642 878L802 878L795.1 883.6L635.1 883.6zM802 918L842 918L835.1 923.6L795.1 923.6zM842 958L1038 958L1044.6 963.6L835.1 963.6zM1038 918L1078 918L1084.6 923.6L1044.6 923.6zM1078 878L1238 878L1244.6 883.6L1084.6 883.6zM1238 798L1282 798L1275.1 803.6L1244.6 803.6zM1320.83 1118L1559.17 1118L1561.35 1123.6L1318.23 1123.6zM1598 998L1638 998L1644.6 1003.6L1604.6 1003.6zM1638 958L1678 958L1684.6 963.6L1644.6 963.6zM1719.17 598L1758 598L1764.6 603.6L1721.35 603.6zM1758 558L1798 558L1804.6 563.6L1764.6 563.6zM1798 478L1838 478L1844.6 483.6L1804.6 483.6zM642 238L678 238L684.6 243.6L635.1 243.6zM1282 318L1318 318L1324.6 323.6L1275.1 323.6zM919.17 358L960.83 358L958.23 363.6L921.35 363.6zM475.17 518L520.83 518L518.23 523.6L488.69 523.6zM960.83 558L1004.83 558L990.04 563.6L958.23 563.6zM1359.17 518L1404.83 518L1390.04 523.6L1361.35 523.6zM875.17 758L1004.83 758L990.04 763.6L888.69 763.6zM562 878L598 878L604.6 883.6L555.1 883.6zM1202 958L1238 958L1244.6 963.6L1195.1 963.6z" fill="#35343a"/><path d="M1158 1000.83L1158 922L1164.6 915.4L1164.6 999.51zM-2 840.83L-2 679.17L4.6 680.35L4.6 839.51zM38 639.17L38 599.17L44.6 600.35L44.6 640.35zM158 518L158 199.17L164.6 200.35L164.6 523.6zM238 119.17L238 79.17L244.6 80.35L244.6 120.35zM238 878L238 838L244.6 843.6L244.6 883.6zM318 838L318 798L324.6 803.6L324.6 843.6zM358 798L358 758L364.6 763.6L364.6 803.6zM1038 958L1038 918L1044.6 923.6L1044.6 963.6zM1078 918L1078 878L1084.6 883.6L1084.6 923.6zM1238 878L1238 798L1244.6 803.6L1244.6 883.6zM1598 1079.17L1598 998L1604.6 1003.6L1604.6 1080.35zM1638 998L1638 958L1644.6 963.6L1644.6 1003.6zM1678 958L1678 639.17L1684.6 640.35L1684.6 963.6zM1758 598L1758 558L1764.6 563.6L1764.6 603.6zM1798 558L1798 478L1804.6 483.6L1804.6 563.6zM1838 478L1838 322L1844.6 315.4L1844.6 483.6zM1798 322L1798 282L1804.6 275.4L1804.6 315.4zM1238 362L1238 282L1244.6 275.4L1244.6 355.4zM1078 282L1078 242L1084.6 235.4L1084.6 275.4zM1038 242L1038 202L1044.6 195.4L1044.6 235.4zM598 362L598 239.17L604.6 240.35L604.6 355.4zM678 238L678 202L684.6 195.4L684.6 243.6zM1318 318L1318 282L1324.6 275.4L1324.6 323.6zM518 599.17L518 560.83L524.6 559.51L524.6 600.35zM918 559.17L918 515.17L924.6 529.97L924.6 560.35zM1318 600.83L1318 559.17L1324.6 560.35L1324.6 599.51zM598 878L598 842L604.6 835.4L604.6 883.6zM1238 958L1238 922L1244.6 915.4L1244.6 963.6z" fill="#39383d"/><path d="M238 79.17L319.17 -2L321.35 3.6L244.6 80.35zM759.17 238L839.17 158L841.35 163.6L761.35 243.6zM1480 357.17L1559.17 278L1561.35 283.6L1479.79 365.16zM1599.17 278L1639.17 238L1641.35 243.6L1601.35 283.6zM-2 679.17L38 639.17L44.6 640.35L4.6 680.35zM38 599.17L119.17 518L121.35 523.6L44.6 600.35zM158 199.17L238 119.17L244.6 120.35L164.6 200.35zM520 877.17L599.17 798L601.35 803.6L519.79 885.16zM1559.17 1118L1598 1079.17L1604.6 1080.35L1561.35 1123.6zM1678 639.17L1719.17 598L1721.35 603.6L1684.6 640.35zM598 239.17L677.17 160L685.02 159.93L604.6 240.35zM875.17 402L919.17 358L921.35 363.6L889.55 395.4zM475.17 642L518 599.17L524.6 600.35L489.55 635.4zM875.17 602L918 559.17L924.6 560.35L889.55 595.4zM1318 559.17L1359.17 518L1361.35 523.6L1324.6 560.35z" fill="#38373c"/><path d="M1319.17 1162L1158 1000.83L1164.6 999.51L1320.49 1155.4zM839.17 1002L759.17 922L760.49 915.4L840.49 995.4zM519.17 922L400 802.83L399.36 794.27L520.49 915.4zM79.17 922L-2 840.83L4.6 839.51L80.49 915.4zM1479.17 402L1360 282.83L1359.36 274.27L1480.49 395.4zM677.17 160L559.17 42L560.49 35.4L685.02 159.93zM518 560.83L475.17 518L488.69 523.6L524.6 559.51zM962 644.83L919.17 602L920.49 595.4L955.1 630.01zM1359.17 642L1318 600.83L1324.6 599.51L1360.49 635.4zM919.17 802L875.17 758L888.69 763.6L920.49 795.4z" fill="#2f2e33"/><path d="M560.83 -2L722 159.17L715.1 160.47L558.23 3.6zM1040.83 158L1120.83 238L1118.23 243.6L1038.23 163.6zM1360.83 238L1480 357.17L1479.79 365.16L1358.23 243.6zM1800.83 238L1882 319.17L1875.1 320.47L1798.23 243.6zM400.83 758L520 877.17L519.79 885.16L398.23 763.6zM1202.83 1000L1320.83 1118L1318.23 1123.6L1194.13 999.51zM960.83 358L1004.83 402L990.03 395.4L958.23 363.6zM520.83 518L562 559.17L555.1 560.47L518.23 523.6zM918 515.17L960.83 558L958.23 563.6L924.6 529.97zM1362 599.17L1404.83 642L1390.03 635.4L1355.1 600.47z" fill="#29282d"/><path d="M1760.83 642L1722 642L1715.1 635.4L1758.24 635.4zM1560.83 1162L1319.17 1162L1320.49 1155.4L1558.24 1155.4zM1158 922L1120.83 922L1118.24 915.4L1164.6 915.4zM1040.83 1002L839.17 1002L840.49 995.4L1038.24 995.4zM759.17 922L519.17 922L520.49 915.4L760.49 915.4zM320.83 882L280.83 882L278.24 875.4L318.24 875.4zM240.83 922L79.17 922L80.49 915.4L238.24 915.4zM559.17 42L320.83 42L318.24 35.4L560.49 35.4zM282 162L242 162L235.1 155.4L275.1 155.4zM242 202L202 202L195.1 195.4L235.1 195.4zM160.83 562L122 562L115.1 555.4L158.24 555.4zM122 602L82 602L75.1 595.4L115.1 595.4zM82 682L42 682L35.1 675.4L75.1 675.4zM1838 322L1798 322L1804.6 315.4L1844.6 315.4zM1798 282L1642 282L1635.1 275.4L1804.6 275.4zM1642 322L1562 322L1555.1 315.4L1635.1 315.4zM1562 362L1522 362L1515.1 355.4L1555.1 355.4zM1522 402L1479.17 402L1480.49 395.4L1515.1 395.4zM1280.83 362L1238 362L1244.6 355.4L1278.24 355.4zM1238 282L1078 282L1084.6 275.4L1244.6 275.4zM1078 242L1038 242L1044.6 235.4L1084.6 235.4zM1038 202L842 202L835.1 195.4L1044.6 195.4zM842 242L802 242L795.1 235.4L835.1 235.4zM802 282L642 282L635.1 275.4L795.1 275.4zM642 362L598 362L604.6 355.4L635.1 355.4zM678 202L642 202L635.1 195.4L684.6 195.4zM1318 282L1282 282L1275.1 275.4L1324.6 275.4zM1004.83 402L875.17 402L889.55 395.4L990.03 395.4zM520.83 642L475.17 642L489.55 635.4L518.24 635.4zM919.17 602L875.17 602L889.55 595.4L920.49 595.4zM1404.83 642L1359.17 642L1360.49 635.4L1390.03 635.4zM960.83 802L919.17 802L920.49 795.4L958.24 795.4zM598 842L562 842L555.1 835.4L604.6 835.4zM1238 922L1202 922L1195.1 915.4L1244.6 915.4z" fill="#232227"/><path d="M722 159.17L722 238L715.1 243.6L715.1 160.47zM1882 319.17L1882 480.83L1875.1 478.54L1875.1 320.47zM1842 520.83L1842 560.83L1835.1 558.54L1835.1 518.54zM1722 642L1722 960.83L1715.1 958.54L1715.1 635.4zM1642 1040.83L1642 1080.83L1635.1 1078.54L1635.1 1038.54zM282 80.83L282 162L275.1 155.4L275.1 78.54zM242 162L242 202L235.1 195.4L235.1 155.4zM202 202L202 520.83L195.1 518.54L195.1 195.4zM122 562L122 602L115.1 595.4L115.1 555.4zM82 602L82 682L75.1 675.4L75.1 595.4zM42 682L42 838L35.1 843.6L35.1 675.4zM82 838L82 878L75.1 883.6L75.1 843.6zM642 798L642 878L635.1 883.6L635.1 803.6zM802 878L802 918L795.1 923.6L795.1 883.6zM842 918L842 958L835.1 963.6L835.1 923.6zM1282 798L1282 920.83L1275.1 918.54L1275.1 803.6zM1642 282L1642 322L1635.1 315.4L1635.1 275.4zM1562 322L1562 362L1555.1 355.4L1555.1 315.4zM1522 362L1522 402L1515.1 395.4L1515.1 355.4zM842 202L842 242L835.1 235.4L835.1 195.4zM802 242L802 282L795.1 275.4L795.1 235.4zM642 282L642 362L635.1 355.4L635.1 275.4zM642 202L642 238L635.1 243.6L635.1 195.4zM1282 282L1282 318L1275.1 323.6L1275.1 275.4zM562 559.17L562 600.83L555.1 598.54L555.1 560.47zM962 600.83L962 644.83L955.1 630.01L955.1 598.54zM1362 560.83L1362 599.17L1355.1 600.47L1355.1 558.54zM562 842L562 878L555.1 883.6L555.1 835.4zM1202 922L1202 958L1195.1 963.6L1195.1 915.4z" fill="#222126"/><path d="M1882 480.83L1842 520.83L1835.1 518.54L1875.1 478.54zM1842 560.83L1760.83 642L1758.24 635.4L1835.1 558.54zM1722 960.83L1642 1040.83L1635.1 1038.54L1715.1 958.54zM1642 1080.83L1560.83 1162L1558.24 1155.4L1635.1 1078.54zM1120.83 922L1040.83 1002L1038.24 995.4L1118.24 915.4zM400 802.83L320.83 882L318.24 875.4L399.36 794.27zM280.83 882L240.83 922L238.24 915.4L278.24 875.4zM320.83 42L282 80.83L275.1 78.54L318.24 35.4zM202 520.83L160.83 562L158.24 555.4L195.1 518.54zM1282 920.83L1202.83 1000L1194.13 999.51L1275.1 918.54zM1360 282.83L1280.83 362L1278.24 355.4L1359.36 274.27zM562 600.83L520.83 642L518.24 635.4L555.1 598.54zM1004.83 558L962 600.83L955.1 598.54L990.04 563.6zM1404.83 518L1362 560.83L1355.1 558.54L1390.04 523.6zM1004.83 758L960.83 802L958.24 795.4L990.04 763.6z" fill="#1e1d22"/></g></g>
<rect x="695" y="236" width="5" height="24" rx="1" fill="#27262b"/>
<rect x="615" y="876" width="5" height="24" rx="1" fill="#27262b"/>
<rect x="1256" y="876" width="5" height="24" rx="1" fill="#27262b"/>
<path d="M176.7 515.5h3.6l-1.2 3.6h-3.6z" fill="#25242a"/>
<path d="M376.7 795.5h3.6l-1.2 3.6h-3.6z" fill="#25242a"/>
<path d="M336.7 835.5h3.6l-1.2 3.6h-3.6z" fill="#25242a"/>
<path d="M256.7 875.5h3.6l-1.2 3.6h-3.6z" fill="#25242a"/>
<path d="M1856.7 475.5h3.6l-1.2 3.6h-3.6z" fill="#25242a"/>
<path d="M1816.7 555.5h3.6l-1.2 3.6h-3.6z" fill="#25242a"/>
<path d="M1776.7 595.5h3.6l-1.2 3.6h-3.6z" fill="#25242a"/>
<path d="M1696.7 955.5h3.6l-1.2 3.6h-3.6z" fill="#25242a"/>
<path d="M1656.7 995.5h3.6l-1.2 3.6h-3.6z" fill="#25242a"/>
<path d="M1096.7 915.5h3.6l-1.2 3.6h-3.6z" fill="#25242a"/>
<path d="M1056.7 955.5h3.6l-1.2 3.6h-3.6z" fill="#25242a"/>
<use href="#Y" x="340" y="60"/>
<use href="#Y" x="300" y="100"/>
<use href="#o" x="620" y="180"/>
<use href="#B" x="660" y="220"/>
<use href="#S" x="860" y="220"/>
<use href="#S" x="1020" y="220"/>
<use href="#G" x="940" y="260"/>
<use href="#o" x="660" y="300"/>
<use href="#o" x="1220" y="300"/>
<use href="#B" x="1300" y="300"/>
<use href="#o" x="1340" y="340"/>
<use href="#S" x="1580" y="340"/>
<use href="#Y" x="1700" y="340"/>
<use href="#R" x="460" y="380"/>
<use href="#S" x="1540" y="380"/>
<use href="#J" x="940" y="420"/>
<use href="#Y" x="1780" y="420"/>
<use href="#Y" x="900" y="460"/>
<use href="#Y" x="980" y="460"/>
<use href="#S" x="1780" y="540"/>
<use href="#S" x="140" y="580"/>
<use href="#F" x="300" y="580"/>
<use href="#f" x="1580" y="580"/>
<use href="#S" x="1740" y="580"/>
<use href="#S" x="100" y="620"/>
<use href="#Y" x="900" y="700"/>
<use href="#Y" x="980" y="700"/>
<use href="#Y" x="100" y="740"/>
<use href="#J" x="940" y="740"/>
<use href="#S" x="340" y="780"/>
<use href="#U" x="1420" y="780"/>
<use href="#Y" x="180" y="820"/>
<use href="#S" x="300" y="820"/>
<use href="#o" x="540" y="820"/>
<use href="#B" x="580" y="860"/>
<use href="#o" x="660" y="860"/>
<use href="#o" x="1220" y="860"/>
<use href="#G" x="940" y="900"/>
<use href="#S" x="860" y="940"/>
<use href="#S" x="1020" y="940"/>
<use href="#B" x="1220" y="940"/>
<use href="#o" x="1260" y="980"/>
<use href="#Y" x="1580" y="1060"/>
<use href="#Y" x="1540" y="1100"/>
</svg>
</body></html>
